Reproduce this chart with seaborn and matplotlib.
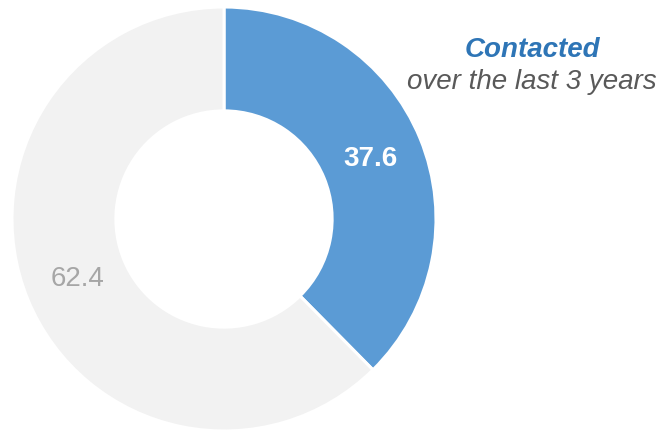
import numpy as np
import matplotlib
matplotlib.use("Agg")
from matplotlib import pyplot as plt
import seaborn as sns

# share of respondents
segments = ["Contacted", "Not contacted"]
shares = [37.6, 62.4]
colors = ["#5B9BD5", "#F2F2F2"]
label_colors = ["white", "#A6A6A6"]
label_weights = ["bold", "normal"]
title = "Contacted"
subtitle = "over the last 3 years"

sns.set_theme(style="white")
plt.rcParams['font.family'] = ['Liberation Sans', 'DejaVu Sans']

fig = plt.figure(figsize=(6.63, 4.30), dpi=100)
# donut centre ~ (224, 219) px, radius ~212 px
r_px = 212
ax = fig.add_axes([(224 - r_px) / 663, (211 - r_px) / 430, 2 * r_px / 663, 2 * r_px / 430])

wedges, _ = ax.pie(shares, colors=colors, startangle=90, counterclock=False,
                   radius=1, wedgeprops=dict(width=0.49, edgecolor="white", linewidth=2.2))
ax.set_xlim(-1, 1)
ax.set_ylim(-1, 1)
ax.set_aspect("equal")
ax.axis("off")

# value labels in the middle of each ring segment
start = 90
for val, col, w in zip(shares, label_colors, label_weights):
    sweep = val / sum(shares) * 360
    mid = np.deg2rad(start - sweep / 2)
    ax.text(0.745 * np.cos(mid), 0.745 * np.sin(mid), f"{val}", color=col,
            fontsize=20, fontweight=w, ha="center", va="center")
    start -= sweep

ax.text(1.453, 0.797, title, color="#2E75B6", fontsize=20, fontweight="bold",
        fontstyle="italic", ha="center", va="center", clip_on=False)
ax.text(1.453, 0.646, subtitle, color="#595959", fontsize=20,
        fontstyle="italic", ha="center", va="center", clip_on=False)

fig.savefig("out.png", dpi=100)
